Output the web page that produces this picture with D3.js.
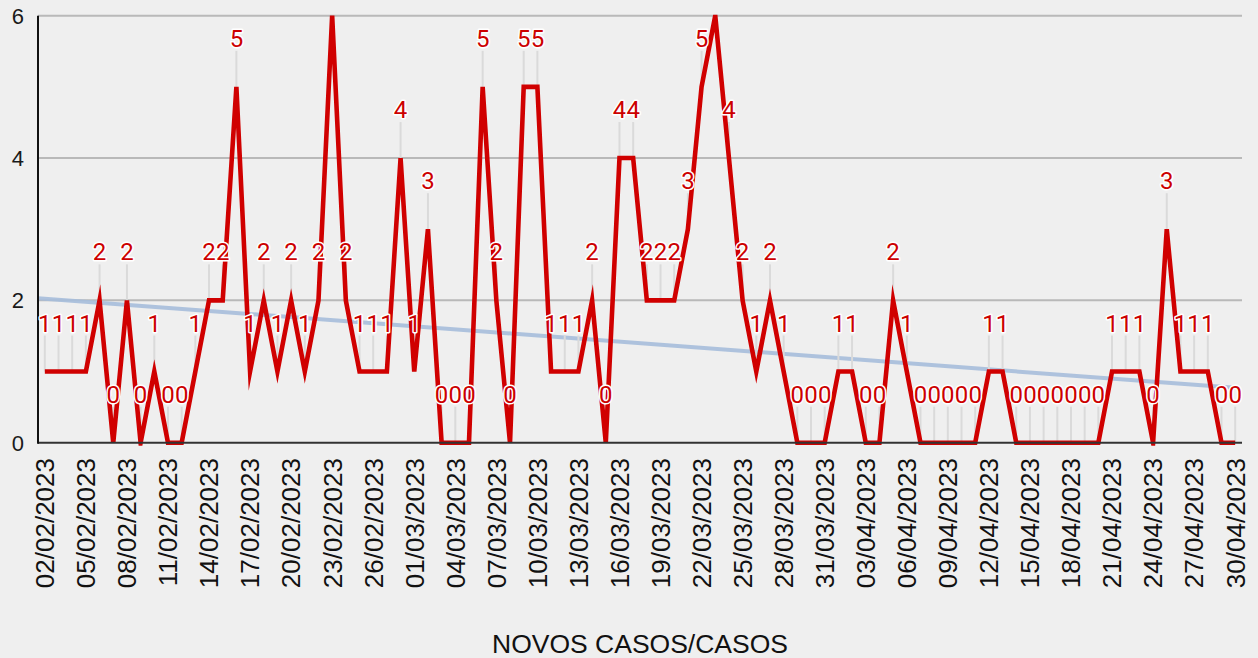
<!DOCTYPE html>
<html>
<head>
<meta charset="utf-8">
<script src="https://cdn.jsdelivr.net/npm/d3@7"></script>
<style>
	html, body { margin: 0; padding: 0; background: #efefef; }
	svg { display: block; }
</style>
</head>
<body>
<svg id="chart" width="1258" height="658"></svg>
<script>
// dias de 02/02/2023 a 30/04/2023
var firstDay = new Date(2023, 1, 2),
	lastDay = new Date(2023, 4, 1);
var fmt = d3.timeFormat("%d/%m/%Y");
var dias = d3.timeDays(firstDay, lastDay).map(fmt);

// novos casos por dia
var novosCasos = [
	1, 1, 1, 1, 2, 0, 2, 0, 1, 0, 0, 1, 2, 2, 5, 1, 2, 1, 2, 1, 2, 6, 2, 1, 1, 1, 4,
	1, 3, 0, 0, 0, 5, 2, 0, 5, 5, 1, 1, 1, 2, 0, 4, 4, 2, 2, 2, 3, 5, 6, 4, 2, 1, 2, 1, 0, 0, 0,
	1, 1, 0, 0, 2, 1, 0, 0, 0, 0, 0, 1, 1, 0, 0, 0, 0, 0, 0, 0, 1, 1, 1, 0, 3, 1, 1, 1, 0, 0
];

var yTicks = [0, 2, 4, 6];
var tituloEixo = "NOVOS CASOS/CASOS";

var svg = d3.select("#chart"),
	pLeft = 38,
	pRight = 1242,
	pTop = 15.7,
	pBottom = 442.7;

var x = d3.scaleBand()
	.domain(dias)
	.range([pLeft, pRight])
	.padding(0);

var y = d3.scaleLinear()
	.domain([0, 6])
	.range([pBottom, pTop]);

var cx = function (d) { return x(d) + x.bandwidth() / 2; };

var data = dias.map(function (d, i) { return { dia: d, i: i, v: novosCasos[i] }; });

svg.append("defs").append("clipPath")
	.attr("id", "plot")
	.append("rect")
	.attr("x", pLeft)
	.attr("y", pTop - 1)
	.attr("width", pRight - pLeft)
	.attr("height", pBottom - pTop + 4);

// grades
svg.append("g")
	.selectAll("line")
	.data(yTicks.filter(function (t) { return t > 0; }))
	.enter()
	.append("line")
	.attr("x1", pLeft)
	.attr("x2", pRight)
	.attr("y1", function (d) { return y(d); })
	.attr("y2", function (d) { return y(d); })
	.style("stroke", "#b9b9b9")
	.style("stroke-width", 2);

svg.append("g")
	.selectAll("text")
	.data(yTicks)
	.enter()
	.append("text")
	.attr("x", 24)
	.attr("y", function (d) { return y(d); })
	.attr("dy", "0.36em")
	.attr("text-anchor", "end")
	.style("font-family", "'Liberation Sans', Arial, sans-serif")
	.style("font-size", "22px")
	.style("fill", "#1a1a1a")
	.text(function (d) { return d; });

// tendencia linear (minimos quadrados)
var n = data.length,
	mx = d3.mean(data, function (d) { return d.i; }),
	my = d3.mean(data, function (d) { return d.v; });
var slope = d3.sum(data, function (d) { return (d.i - mx) * (d.v - my); }) /
	d3.sum(data, function (d) { return (d.i - mx) * (d.i - mx); });
var trend = function (i) { return my + slope * (i - mx); };

svg.append("line")
	.attr("x1", pLeft)
	.attr("y1", y(trend(-0.5)))
	.attr("x2", cx(dias[n - 1]))
	.attr("y2", y(trend(n - 1)))
	.style("stroke", "#a7bedc")
	.style("stroke-width", 4)
	.style("opacity", 0.9);

// linhas guia dos rotulos
var visiveis = data.filter(function (d) { return y(d.v) - 40 > 0; });

svg.append("g")
	.selectAll("line")
	.data(visiveis)
	.enter()
	.append("line")
	.attr("x1", function (d) { return cx(d.dia); })
	.attr("x2", function (d) { return cx(d.dia); })
	.attr("y1", function (d) { return y(d.v) - 36; })
	.attr("y2", function (d) { return y(d.v); })
	.style("stroke", "#dadada")
	.style("stroke-width", 2);

var line = d3.line()
	.x(function (d) { return cx(d.dia); })
	.y(function (d) { return y(d.v); });

svg.append("path")
	.datum(data)
	.attr("clip-path", "url(#plot)")
	.attr("d", line)
	.style("fill", "none")
	.style("stroke", "#d00000")
	.style("stroke-width", 4.6)
	.style("stroke-linejoin", "miter")
	.style("stroke-miterlimit", 10);

// eixos
svg.append("line")
	.attr("x1", pLeft)
	.attr("x2", pRight)
	.attr("y1", pBottom)
	.attr("y2", pBottom)
	.style("stroke", "#333")
	.style("stroke-width", 2);

svg.append("line")
	.attr("x1", pLeft)
	.attr("x2", pLeft)
	.attr("y1", pTop)
	.attr("y2", pBottom + 1)
	.style("stroke", "#111")
	.style("stroke-width", 2);

// rotulos de dados
svg.append("g")
	.selectAll("text")
	.data(visiveis)
	.enter()
	.append("text")
	.attr("x", function (d) { return cx(d.dia); })
	.attr("y", function (d) { return y(d.v) - 40; })
	.attr("text-anchor", "middle")
	.style("font-family", "Roboto, sans-serif")
	.style("font-size", "24px")
	.style("fill", "#cc0000")
	.style("stroke", "#ffffff")
	.style("stroke-width", 3)
	.style("stroke-linejoin", "round")
	.style("paint-order", "stroke")
	.text(function (d) { return d.v; });

// datas a cada 3 dias
svg.append("g")
	.selectAll("text")
	.data(dias.filter(function (d, i) { return i % 3 === 0; }))
	.enter()
	.append("text")
	.attr("transform", function (d) { return "translate(" + cx(d) + "," + 458 + ") rotate(-90)"; })
	.attr("dy", "0.36em")
	.attr("text-anchor", "end")
	.style("font-family", "'Liberation Sans', Arial, sans-serif")
	.style("font-size", "26px")
	.style("fill", "#111")
	.text(function (d) { return d; });

svg.append("text")
	.attr("x", (pLeft + pRight) / 2)
	.attr("y", 653)
	.attr("text-anchor", "middle")
	.style("font-family", "'Liberation Sans', Arial, sans-serif")
	.style("font-size", "26.5px")
	.style("fill", "#111")
	.text(tituloEixo);
</script>
</body>
</html>
